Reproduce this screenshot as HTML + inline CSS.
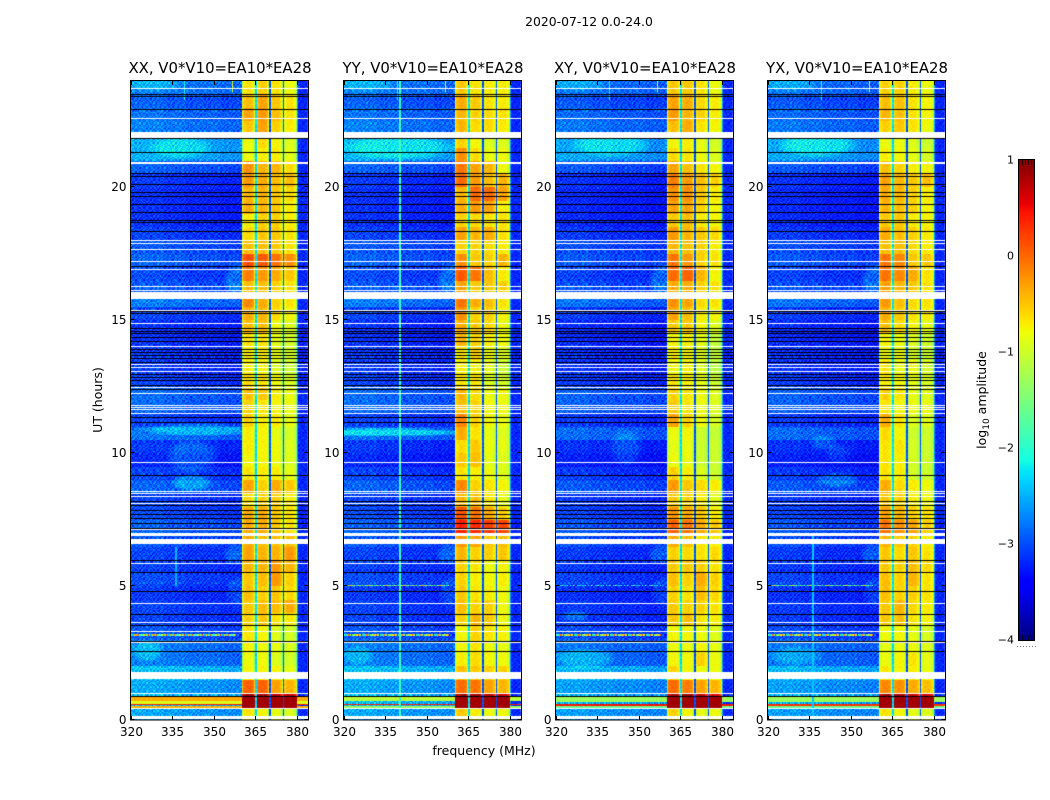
<!DOCTYPE html>
<html lang="en">
<head>
<meta charset="utf-8">
<title>2020-07-12 0.0-24.0</title>
<style>
html,body{margin:0;padding:0;background:#fff;}
#figure{position:relative;width:1050px;height:800px;overflow:hidden;background:#fff;font-family:"DejaVu Sans","Liberation Sans",sans-serif;}
canvas{position:absolute;display:block;}
svg{position:absolute;left:0;top:0;}
text{font-family:"DejaVu Sans","Liberation Sans",sans-serif;fill:#000;}
</style>
</head>
<body>
<div id="figure">
  <canvas id="heat0"></canvas>
  <canvas id="heat1"></canvas>
  <canvas id="heat2"></canvas>
  <canvas id="heat3"></canvas>
  <canvas id="cbar"></canvas>
  <svg id="overlay" width="1050" height="800">
    <text x="589" y="26" font-size="12.4" text-anchor="middle">2020-07-12 0.0-24.0</text>
    <text x="484" y="755" font-size="12.5" text-anchor="middle">frequency (MHz)</text>
    <text x="0" y="0" font-size="12.5" text-anchor="middle" transform="translate(102,400) rotate(-90)">UT (hours)</text>
    <text x="0" y="0" font-size="12.5" text-anchor="middle" transform="translate(986,400) rotate(-90)">log<tspan font-size="9" dy="3">10</tspan><tspan dy="-3"> amplitude</tspan></text>
  </svg>
</div>
<script>
/* ---------- chart data ---------- */
const panelTitles = ["XX, V0*V10=EA10*EA28","YY, V0*V10=EA10*EA28","XY, V0*V10=EA10*EA28","YX, V0*V10=EA10*EA28"];
const freqTicks = [320,335,350,365,380];
const hourTicks = [0,5,10,15,20];
const colorbarTicks = [1,0,-1,-2,-3,-4];

/* log10 amplitude per half hour (index 0 = 0.0-0.5 UT), one array per panel + spectral window */
const bandXXspw1 = [-.7,.8,0,-.8,-.85,-.8,-.7,-.6,-.55,-.5,-.55,-.45,-.35,-.4,-.4,-.4,-.65,-.35,-.7,-.8,-.75,-.75,-.6,-.6,-.5,-.65,-.75,-.75,-.7,-.5,-.4,-.2,-.5,-.15,.1,-.5,-.65,-.75,-.4,-.45,-.3,-.25,-.85,-.85,-.55,-.35,-.5,-.7];
const bandXXspw2 = [-.8,.8,0,-.8,-.85,-.85,-.8,-.55,-.5,-.6,-.5,-.45,-.45,-.5,-.4,-.4,-.6,-.6,-.75,-.8,-.8,-.8,-.75,-.7,-.55,-.7,-.8,-.75,-.7,-.5,-.45,-.4,-.5,-.3,.05,-.5,-.55,-.6,-.45,-.45,-.4,-.45,-.75,-.65,-.35,-.3,-.35,-.6];
const bandXXspw3 = [-.9,.7,-.35,-.8,-.95,-.9,-.95,-.7,-.5,-.55,-.3,-.3,-.45,-.5,-.55,-.55,-.6,-.4,-.75,-.85,-.85,-.9,-.75,-.8,-.75,-.85,-.95,-.9,-.9,-.85,-.65,-.6,-.6,-.4,-.1,-.55,-.55,-.6,-.55,-.55,-.5,-.45,-.75,-.8,-.6,-.5,-.55,-.7];
const bandXXspw4 = [-.95,.65,-.45,-.9,-1,-.95,-1,-.75,-.4,-.65,-.6,-.45,-.3,-.5,-.7,-.7,-.75,-.55,-.9,-.95,-.95,-1,-.9,-.85,-.85,-.95,-1.05,-1,-1,-.95,-.8,-.7,-.7,-.55,-.25,-.7,-.7,-.75,-.75,-.65,-.5,-.65,-.9,-.95,-.75,-.7,-.7,-.85];
const bandYYspw1 = [-.55,.8,-.05,-.5,-.75,-.8,-.8,-.6,-.5,-.55,-.6,-.6,-.45,-.3,.35,.05,-.45,-.2,-.7,-.55,-.65,-.4,-.2,-.5,-.45,-.7,-.75,-.7,-.45,-.4,-.25,-.1,-.35,.05,-.25,-.6,-.35,-.6,-.4,-.45,-.05,-.1,-.25,-.6,-.45,-.45,-.4,-.55];
const bandYYspw2 = [-.75,.8,-.1,-.55,-.65,-.7,-.6,-.45,-.6,-.7,-.75,-.7,-.6,-.35,.3,-.1,-.5,-.6,-.75,-.5,-.55,-.7,-.6,-.6,-.65,-.7,-.75,-.6,-.6,-.55,-.6,-.4,-.55,-.1,-.55,-.6,-.45,-.65,-.3,-.05,-.3,-.35,-.65,-.8,-.65,-.6,-.55,-.7];
const bandYYspw3 = [-.85,.65,-.35,-.6,-.8,-.85,-.7,-.55,-.6,-.75,-.8,-.85,-.6,-.55,.2,-.4,-.7,-.7,-.85,-.9,-.85,-.9,-.8,-.8,-.85,-.95,-.9,-.85,-.75,-.65,-.6,-.5,-.55,-.5,-.6,-.65,-.4,-.7,-.35,-.05,-.5,-.45,-.85,-.95,-.65,-.65,-.7,-.75];
const bandYYspw4 = [-.85,.6,-.45,-.6,-.85,-.9,-.8,-.85,-.85,-.85,-.75,-.8,-.55,-.5,.15,-.6,-.9,-.8,-.95,-.95,-.9,-.95,-.9,-.85,-.85,-1,-1.05,-.95,-.85,-.85,-.8,-.7,-.6,-.75,-.45,-.75,-.7,-.7,-.75,-.35,-.45,-.85,-.85,-.95,-.75,-.7,-.75,-.75];
const bandXYspw1 = [-.6,.75,-.05,-.6,-.8,-.85,-.8,-.55,-.55,-.6,-.5,-.55,-.6,-.4,0,-.3,-.55,-.3,-.6,-.85,-.9,-.85,-.35,-.55,-.6,-.7,-.8,-.75,-.8,-.55,-.35,-.25,-.4,-.05,-.1,-.45,-.3,-.55,-.35,-.25,-.15,-.35,-.65,-.8,-.5,-.3,-.35,-.55];
const bandXYspw2 = [-.8,.85,-.15,-.8,-.8,-.85,-.8,-.5,-.6,-.7,-.6,-.55,-.65,-.5,-.1,-.4,-.6,-.55,-.75,-.85,-.85,-.8,-.6,-.7,-.7,-.75,-.75,-.8,-.75,-.55,-.5,-.35,-.4,0,-.3,-.5,-.45,-.5,-.35,-.25,-.3,-.5,-.7,-.75,-.4,-.45,-.4,-.55];
const bandXYspw3 = [-.9,.65,-.35,-.85,-.6,-.8,-.85,-.7,-.6,-.5,-.4,-.6,-.7,-.7,-.4,-.55,-.75,-.65,-.95,-1.05,-1.05,-1.05,-.85,-.85,-.85,-.9,-.95,-.95,-.9,-.8,-.75,-.65,-.6,-.45,-.6,-.6,-.55,-.75,-.6,-.55,-.5,-.7,-.85,-.9,-.7,-.6,-.65,-.7];
const bandXYspw4 = [-.85,.5,-.45,-.85,-.85,-.9,-.95,-.75,-.7,-.65,-.6,-.7,-.65,-.75,-.55,-.75,-.9,-.75,-1.05,-1.05,-1.05,-1.1,-1,-.95,-.95,-1.05,-1.15,-1.1,-1.1,-.95,-.8,-.7,-.7,-.8,-.7,-.75,-.65,-.8,-.8,-.75,-.6,-.8,-.95,-1,-.8,-.75,-.75,-.85];
const bandYXspw1 = [-.7,.8,-.2,-.7,-.85,-.9,-.85,-.55,-.55,-.5,-.5,-.55,-.55,-.45,-.1,-.35,-.55,-.4,-.7,-.7,-.7,-.65,-.4,-.7,-.6,-.75,-.7,-.85,-.8,-.5,-.4,-.3,-.35,-.1,-.1,-.5,-.4,-.55,-.45,-.4,-.35,-.5,-.75,-.85,-.6,-.45,-.5,-.6];
const bandYXspw2 = [-.8,.8,-.25,-.8,-.8,-.85,-.8,-.5,-.45,-.6,-.6,-.6,-.65,-.55,-.25,-.45,-.6,-.65,-.75,-.75,-.7,-.8,-.7,-.8,-.7,-.8,-.85,-.85,-.85,-.65,-.55,-.5,-.45,-.2,-.2,-.5,-.5,-.55,-.5,-.45,-.45,-.6,-.8,-.85,-.55,-.5,-.5,-.6];
const bandYXspw3 = [-.9,.6,-.4,-.75,-.7,-.85,-.9,-.7,-.65,-.6,-.45,-.5,-.55,-.6,-.35,-.6,-.75,-.75,-1,-1,-1,-1.05,-.95,-.85,-.9,-.9,-.85,-1,-.95,-.8,-.7,-.65,-.55,-.4,-.55,-.65,-.6,-.75,-.6,-.6,-.55,-.75,-.9,-.95,-.7,-.7,-.7,-.75];
const bandYXspw4 = [-.95,.55,-.5,-.9,-.9,-.95,-1,-.8,-.75,-.7,-.7,-.65,-.7,-.75,-.6,-.7,-.85,-.85,-1.05,-1.05,-1.05,-1.05,-.95,-.9,-.95,-1,-1,-1.05,-1.05,-.9,-.75,-.7,-.7,-.7,-.55,-.75,-.75,-.8,-.8,-.75,-.5,-.8,-1,-1.05,-.85,-.8,-.8,-.85];
const bandLevels = [
  [bandXXspw1,bandXXspw2,bandXXspw3,bandXXspw4],
  [bandYYspw1,bandYYspw2,bandYYspw3,bandYYspw4],
  [bandXYspw1,bandXYspw2,bandXYspw3,bandXYspw4],
  [bandYXspw1,bandYXspw2,bandYXspw3,bandYXspw4]
];
/* out-of-band level per half hour, plus per-panel and per-4-MHz corrections */
const backgroundLevels = [-2.65,-2.55,-2.65,-2.5,-2.85,-2.85,-3.05,-3.15,-3.15,-3.2,-3.1,-3.15,-3.15,-3.05,-3,-3.1,-3.15,-3,-3.15,-3.3,-3.2,-2.9,-3.15,-2.95,-2.95,-3.15,-3.2,-3.2,-3.25,-3.25,-3.15,-2.85,-3.05,-3.1,-3,-3.05,-3.15,-3.25,-3.25,-3.25,-3.2,-3,-2.6,-2.6,-2.85,-2.9,-3,-2.85];
const panelBackgroundOffset = [0,0,-.05,-.05];
const backgroundFreqOffset = [.1,.1,.1,.05,.05,0,0,0,-.05,-.05,-.05,-.05,0,0,0,0];
/* amplitude shape across the ten half-MHz channels of one spectral window */
const spwChannelShape = [-.4,-.08,0,.05,.05,.05,.05,0,-.1,-.5];
const spwGapFreqs = [365,370,375];
const spwGapLevels = [-2.3,-3,-3];
const guardLevel = -2.6;
const rightEdgeLevel = -3.2;
/* diffuse emission: panel (-1 = all), centre hour, hour radius, centre MHz, MHz radius, added log amplitude */
const diffuseBlobs = [
  [-1,23.85,.25,328,11,.25],[-1,6.2,.4,358,5,.3],[-1,16.5,.7,359,6,.3],[-1,4.8,.6,358,4,.2],
  [0,10.9,.25,345,22,.4],[0,9.9,.7,342,10,.3],[0,8.9,.35,342,8,.4],[0,21.5,.45,338,12,.3],[0,2.6,.45,326,6,.3],
  [1,10.8,.16,335,32,.55],[1,21.5,.5,340,22,.35],[1,2.4,.4,325,6,.25],
  [2,21.6,.5,340,15,.35],[2,2.3,.4,330,12,.3],[2,3.9,.2,327,5,.3],[2,10.2,.8,345,6,.25],
  [3,21.6,.5,338,15,.4],[3,2.4,.4,330,10,.25],[3,9,.3,345,8,.3],[3,10,.4,345,5,.2],[3,10.4,.3,340,5,.25]
];
/* strong interference rows: panel, low hour, high hour, level */
const hotRows = [
  [0,.7,.85,-.35],[0,.62,.7,-.9],[0,.53,.6,.4],[0,.42,.5,-.4],
  [1,.68,.85,-1.1],[1,.53,.62,.4],[1,.45,.52,-1.3],
  [2,.65,.9,-1.3],[2,.49,.6,.45],[2,.44,.49,-1.6],
  [3,.65,.9,-1.3],[3,.5,.6,.3],[3,.44,.5,-1.6]
];
const hotBandSpan = [.42,.92];
const hotBandLevel = .85;
/* thin speckled interference rows: panel, hour, level */
const speckleRows = [[0,3.17,-1.2],[1,3.17,-1],[2,3.17,-.9],[3,3.17,-1],[1,5.02,-1.3],[3,5.02,-1.5],[2,5.02,-2.3]];
/* narrow vertical features: panel (-1 = all), MHz, low hour, high hour, level */
const channelLines = [
  [1,340,0,24,-1.9],[0,336,5,6.5,-2.5],[3,336,0,7,-2.4],
  [-1,339,23.3,24,-2.1],[-1,339,23.8,24,.4],[-1,356.5,23.6,24,-.9]
];
/* flagged (white) spans and blanked (black) rows in hours */
const flaggedSpans = [[.03,.15],[.39,.43],[.95,.99],[1.53,1.78],[2.87,2.9],[3.3,3.34],[3.62,3.66],[4.34,4.38],[5.84,5.87],[6.6,6.78],[6.9,7],[7.11,7.15],[8.09,8.13],[8.38,8.41],[8.49,8.53],[8.57,8.6],[9.15,9.18],[9.63,9.67],[11.47,11.51],[11.63,11.67],[11.7,11.73],[11.79,11.82],[12.23,12.27],[12.47,12.5],[13.08,13.11],[13.23,13.26],[13.33,13.36],[14.02,14.05],[14.86,14.89],[15.37,15.4],[15.8,16.08],[16.13,16.16],[16.26,16.29],[16.9,16.93],[17.21,17.24],[17.65,17.68],[17.87,17.9],[17.98,18.01],[20.87,20.97],[21.87,22.09],[22.57,22.6],[23.7,23.73]];
const blankedHours = [.9,2.56,2.94,3.57,3.97,4.84,5.55,5.99,7.19,7.38,7.56,7.71,7.88,8.08,8.2,9.2,11.17,11.38,12.42,12.59,12.76,12.88,13,13.44,13.57,13.7,13.82,13.92,14.23,14.36,14.52,14.61,14.73,15.27,15.35,17.06,18.37,18.7,18.79,19.07,19.39,19.69,19.84,20.14,20.44,20.56,21.34,21.87,22.96,23.45,23.51];
/* repeating channel-noise patch sampled by eye from a background area (tenths of a decade) */
const noisePatch = [
  [ 3,-2, 1,-4, 2, 0,-3, 4,-1, 2,-5, 1, 3],
  [-1, 4,-3, 1,-2, 5,-1,-4, 2, 0, 3,-2, 0],
  [ 2,-4, 0, 3,-5, 1, 4,-2, 0,-3, 1, 4,-2],
  [-3, 1, 5,-1, 2,-3, 0, 2,-4, 3,-1,-2, 4],
  [ 0, 3,-2,-4, 4, 1,-5, 3, 1,-2, 2, 0,-3],
  [ 4,-1, 2, 0,-3, 3, 1,-4, 5,-1,-3, 2, 1],
  [-2, 0,-4, 3, 1,-1, 4, 0,-3, 2, 4,-4, 0],
  [ 1, 5,-1,-3, 0, 4,-2, 1, 3,-5, 0, 2,-1],
  [-4, 2, 3,-2, 4,-2, 0,-3, 1, 3,-1, 5,-3],
  [ 3,-3, 0, 2,-1,-4, 3, 2,-2, 0, 4,-2, 1],
  [-1, 1,-5, 4, 2, 0,-1,-3, 4, 1,-3, 0, 2]
];

/* ---------- axes ---------- */
const panelLeft = [131,344,556,768];
const plotWidth = 177, plotTop = 81, plotBottom = 719.5;
const freqMin = 320, freqMax = 384, hourMax = 24, valueMin = -4, valueMax = 1;
const nRows = 480, nCols = 128;
function xScale(p,f){ return panelLeft[p] + (f-freqMin)/(freqMax-freqMin)*plotWidth; }
function yScale(h){ return plotBottom - h/hourMax*(plotBottom-plotTop); }
function clamp01(t){ return Math.max(0,Math.min(1,t)); }
function jet(v){
  const t = clamp01((v-valueMin)/(valueMax-valueMin));
  let r,g,b;
  r = t<.35?0:t<.66?(t-.35)/.31:t<.89?1:1-(t-.89)/.11*.5;
  g = t<.125?0:t<.375?(t-.125)/.25:t<.64?1:t<.91?1-(t-.64)/.27:0;
  b = t<.11?.5+t/.11*.5:t<.34?1:t<.65?1-(t-.34)/.31:0;
  return 'rgb('+Math.round(r*255)+','+Math.round(g*255)+','+Math.round(b*255)+')';
}
function noiseAt(row,col){
  const block = Math.floor(row/noisePatch.length);
  const line = noisePatch[row%noisePatch.length];
  return line[(col+block*5)%line.length]/10;
}
function cellValue(p,row,col){
  const h = (row+.5)/nRows*hourMax;
  const f = freqMin + (col+.5)/nCols*(freqMax-freqMin);
  const tex = noiseAt(row,col);
  const half = Math.min(47,Math.floor(h*2));
  for (const l of channelLines){
    if ((l[0]===-1||l[0]===p) && Math.floor((l[1]-freqMin)/(freqMax-freqMin)*nCols)===col && h>=l[2] && h<l[3]) return l[4]+tex*.2;
  }
  if (f>=360 && f<380){
    for (let g=0;g<spwGapFreqs.length;g++){
      if (f>=spwGapFreqs[g] && f<spwGapFreqs[g]+.5) return spwGapLevels[g]+tex*.3;
    }
    if (h>=hotBandSpan[0] && h<hotBandSpan[1]) return hotBandLevel+tex*.1;
    const spw = Math.floor((f-360)/5);
    const ch = Math.floor((f-360-spw*5)*2);
    return bandLevels[p][spw][half]+spwChannelShape[ch]+tex*.22;
  }
  for (const r of hotRows){
    if (r[0]===p && h>=r[1] && h<r[2]) return r[3]+tex*.2;
  }
  for (const s of speckleRows){
    if (s[0]===p && f<358 && Math.abs(h-s[1])<.03) return s[2]+tex*3;
  }
  if (f>=380 && f<380.5) return guardLevel+tex*.3;
  if (f>=380.5) return rightEdgeLevel+tex*.5;
  let v = backgroundLevels[half]+panelBackgroundOffset[p]+backgroundFreqOffset[Math.floor((f-freqMin)/4)];
  for (const b of diffuseBlobs){
    if (b[0]!==-1 && b[0]!==p) continue;
    const dh=(h-b[1])/b[2], df=(f-b[3])/b[4];
    const q=1-dh*dh-df*df;
    if (q>0) v+=b[5]*Math.min(1,q*1.6);
  }
  return v+tex*.75;
}

/* ---------- heatmaps ---------- */
for (let p=0;p<4;p++){
  const cv = document.getElementById('heat'+p);
  cv.width = plotWidth+1;
  cv.height = 640;
  cv.style.left = panelLeft[p]+'px';
  cv.style.top = plotTop+'px';
  const ctx = cv.getContext('2d');
  for (let row=0;row<nRows;row++){
    const y1 = Math.round(yScale(row/nRows*hourMax))-plotTop;
    const y0 = Math.round(yScale((row+1)/nRows*hourMax))-plotTop;
    for (let col=0;col<nCols;col++){
      const f0 = freqMin+col/nCols*(freqMax-freqMin);
      const f1 = freqMin+(col+1)/nCols*(freqMax-freqMin);
      const x0 = Math.round(xScale(p,f0))-panelLeft[p];
      const x1 = Math.round(xScale(p,f1))-panelLeft[p];
      ctx.fillStyle = jet(cellValue(p,row,col));
      ctx.fillRect(x0,y0,x1-x0,y1-y0);
    }
  }
  ctx.fillStyle = '#fff';
  for (const s of flaggedSpans){
    const y0 = Math.round(yScale(s[1]))-plotTop;
    const y1 = Math.round(yScale(s[0]))-plotTop;
    ctx.fillRect(0,y0,plotWidth+1,Math.max(1,y1-y0));
  }
  ctx.fillStyle = '#000';
  for (const h of blankedHours){
    ctx.fillRect(0,Math.round(yScale(h))-plotTop,plotWidth+1,1);
  }
}

/* ---------- colorbar ---------- */
const cbLeft=1019, cbTop=160, cbWidth=15, cbHeight=480;
function cbScale(v){ return cbTop+(valueMax-v)/(valueMax-valueMin)*cbHeight; }
(function(){
  const cv = document.getElementById('cbar');
  cv.width = cbWidth;
  cv.height = cbHeight;
  cv.style.left = cbLeft+'px';
  cv.style.top = cbTop+'px';
  const ctx = cv.getContext('2d');
  for (let i=0;i<cbHeight;i++){
    ctx.fillStyle = jet(valueMax-(i+.5)/cbHeight*(valueMax-valueMin));
    ctx.fillRect(0,i,cbWidth,1);
  }
})();

/* ---------- frames, ticks and labels ---------- */
const svg = document.getElementById('overlay');
const NS = 'http://www.w3.org/2000/svg';
function mk(tag,attrs){
  const el = document.createElementNS(NS,tag);
  for (const k in attrs) el.setAttribute(k,attrs[k]);
  svg.appendChild(el);
  return el;
}
for (let p=0;p<4;p++){
  const left = panelLeft[p]-.5, right = panelLeft[p]+plotWidth+.5;
  const title = mk('text',{x:(left+right)/2+.5,y:73,'font-size':14.9,'text-anchor':'middle'});
  title.textContent = panelTitles[p];
  
  
  const frame = mk('rect',{x:left,y:80.5,width:right-left,height:639.5,fill:'none',stroke:'#000','stroke-width':1});
  
  
  for (const f of freqTicks){
    const x = Math.round(xScale(p,f))+.5;
    const tb = mk('line',{x1:x,x2:x,y1:720,y2:716,stroke:'#000','stroke-width':1});
    
    
    const tt = mk('line',{x1:x,x2:x,y1:81,y2:85,stroke:'#000','stroke-width':1});
    
    
    const lab = mk('text',{x:x,y:736,'font-size':12,'text-anchor':'middle'});
    lab.textContent = String(f);
    
    
  }
  for (const h of hourTicks){
    const y = Math.round(yScale(h))-.5;
    const tl = mk('line',{x1:left,x2:left+4,y1:y,y2:y,stroke:'#000','stroke-width':1});
    
    
    const tr = mk('line',{x1:right,x2:right-4,y1:y,y2:y,stroke:'#000','stroke-width':1});
    
    
    const lab = mk('text',{x:left-4,y:y+4.5,'font-size':12,'text-anchor':'end'});
    lab.textContent = String(h);
    
    
  }
}
const cbFrame = mk('rect',{x:cbLeft-.5,y:cbTop-.5,width:cbWidth+1,height:cbHeight+1,fill:'none',stroke:'#000','stroke-width':1});


for (const v of colorbarTicks){
  const lab = mk('text',{x:1014,y:cbScale(v)+3.5,'font-size':11,'text-anchor':'end'});
  lab.textContent = v<0 ? '\u2212'+Math.abs(v) : String(v);
  
  
}
for (let i=1;i<5;i++){
  const x = cbLeft+i*3+.5;
  const a = mk('line',{x1:x,x2:x,y1:cbTop,y2:cbTop+5,stroke:'#000','stroke-width':1,'stroke-opacity':.7});
  
  
  const b = mk('line',{x1:x,x2:x,y1:cbTop+cbHeight,y2:cbTop+cbHeight-5,stroke:'#000','stroke-width':1,'stroke-opacity':.7});
  
  
}
for (let i=0;i<7;i++){
  const d = mk('rect',{x:1017+i*3,y:646,width:1,height:1,fill:'#777'});
  
  
}
</script>
</body>
</html>
